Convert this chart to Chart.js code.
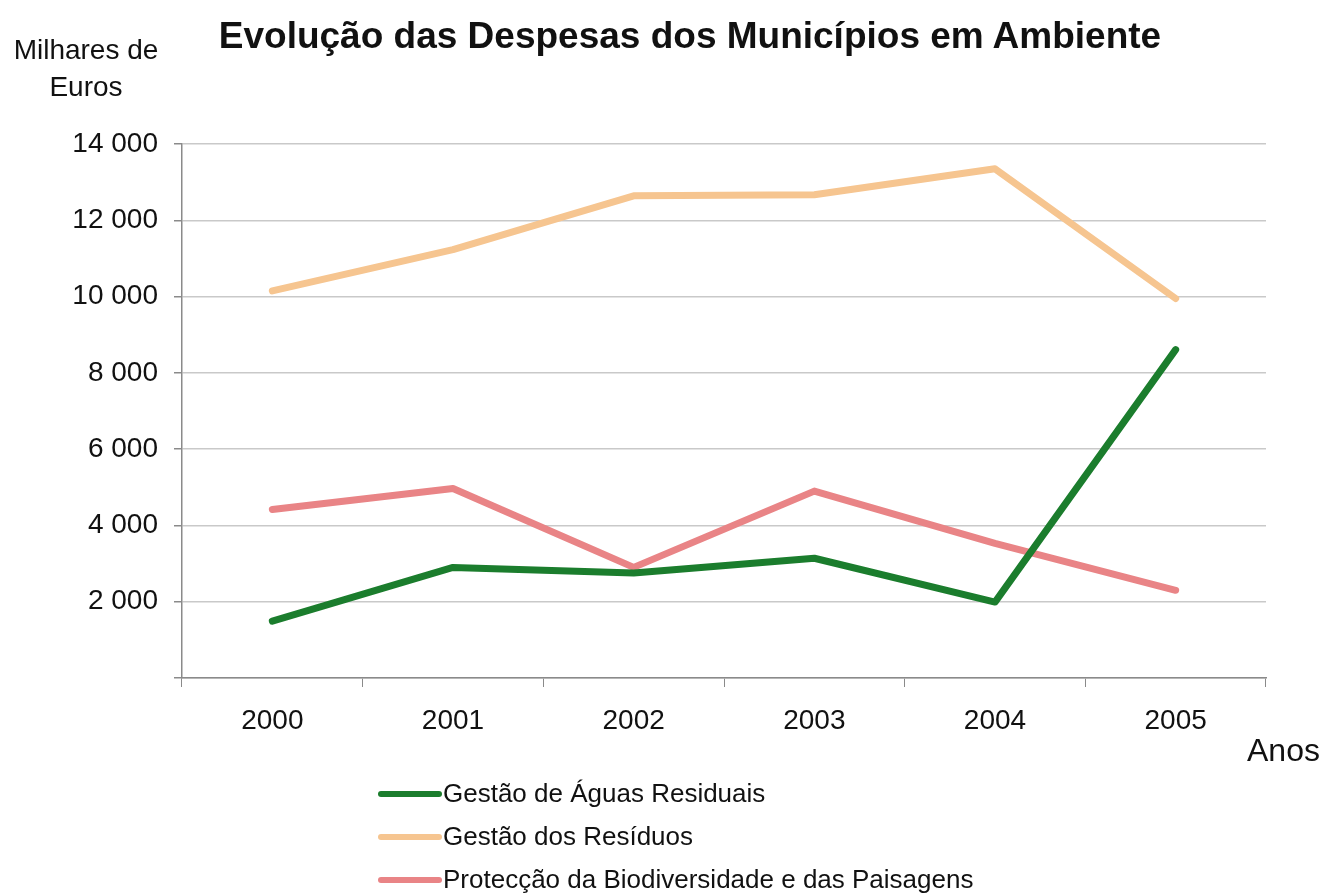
<!DOCTYPE html>
<html>
<head>
<meta charset="utf-8">
<script src="https://cdn.jsdelivr.net/npm/chart.js@4"></script>
<style>
body{margin:0;background:#fff;font-family:"Liberation Sans",Arial,sans-serif;}
#wrap{position:relative;width:1323px;height:894px;}
#chart{position:absolute;left:0;top:0;}
.txt{position:absolute;color:#111;white-space:nowrap;}
#title{left:0;width:1380px;top:15px;text-align:center;font-size:37px;font-weight:bold;}
#yTitle{left:12px;width:148px;top:31px;text-align:center;font-size:28px;line-height:37px;}
#xTitle{left:1247px;top:732px;font-size:32px;}
#legend{position:absolute;left:378px;top:772px;}
.item{height:43px;display:flex;align-items:center;font-size:26px;color:#111;}
.swatch{width:64px;height:6px;margin-right:1px;border-radius:3px;}
</style>
</head>
<body>
<div id="wrap">
<canvas id="chart" width="1323" height="894"></canvas>
<div class="txt" id="title">Evolução das Despesas dos Municípios em Ambiente</div>
<div class="txt" id="yTitle">Milhares de<br>Euros</div>
<div class="txt" id="xTitle">Anos</div>
<div id="legend"></div>
</div>
<script>
const years = ["2000","2001","2002","2003","2004","2005"];

const seriesNames = [
    "Gestão de Águas Residuais",
    "Gestão dos Resíduos",
    "Protecção da Biodiversidade e das Paisagens"
];

const aguasResiduais = [1490, 2900, 2750, 3140, 1990, 8610];
const residuos = [10150, 11230, 12640, 12670, 13350, 9950];
const biodiversidade = [4420, 4970, 2900, 4900, 3530, 2300];

const yTicks = [0, 2000, 4000, 6000, 8000, 10000, 12000, 14000];

const colors = ["#1b7d2d", "#f6c590", "#e98486"];

const allSeries = [aguasResiduais, residuos, biodiversidade];

const datasets = allSeries.map((values,i)=>({
    label: seriesNames[i],
    data: values,
    borderColor: colors[i],
    backgroundColor: colors[i],
    borderWidth: 7,
    pointRadius: 0,
    tension: 0,
    borderJoinStyle: "round",
    borderCapStyle: "round"
}));

// green sits on top like the original
datasets[0].order = 0;
datasets[1].order = 2;
datasets[2].order = 1;

function formatThousands(v){
    if(v === 0) return "";
    return String(v).replace(/\B(?=(\d{3})+(?!\d))/g, " ");
}

const chart = new Chart(document.getElementById("chart"), {
    type: "line",
    data: {
        labels: years,
        datasets
    },
    options: {
        responsive: false,
        animation: false,
        layout: {
            padding: {top: 144, right: 57, bottom: 0, left: 0}
        },
        plugins: {
            legend: {display: false},
            tooltip: {enabled: false}
        },
        scales: {
            x: {
                offset: true,
                grid: {
                    offset: true,
                    drawOnChartArea: false,
                    drawTicks: true,
                    tickLength: 9,
                    color: "#8a8a8a",
                    tickColor: "#8a8a8a"
                },
                border: {color: "#8a8a8a", width: 1.5},
                ticks: {
                    color: "#111",
                    font: {family: "Liberation Sans", size: 28},
                    padding: 17,
                    maxRotation: 0
                },
                afterFit(scale){
                    scale.height = 894 - 678;
                }
            },
            y: {
                min: 0,
                max: 14000,
                afterBuildTicks(scale){
                    scale.ticks = yTicks.map(v=>({value: v}));
                },
                grid: {
                    color: "#c9c9c9",
                    lineWidth: 1.5,
                    tickLength: 8,
                    tickColor: "#8a8a8a"
                },
                border: {color: "#8a8a8a", width: 1.5},
                ticks: {
                    color: "#111",
                    font: {family: "Liberation Sans", size: 28},
                    padding: 16,
                    callback: (v)=>formatThousands(v)
                },
                afterFit(scale){
                    scale.width = 182;
                }
            }
        }
    }
});

// legend as a vertical list, like the original
const legend = document.getElementById("legend");

chart.data.datasets.forEach(ds=>{
    legend.innerHTML += `
    <div class="item">
        <div class="swatch" style="background:${ds.borderColor}"></div>
        <span>${ds.label}</span>
    </div>
    `;
});
</script>
</body>
</html>
